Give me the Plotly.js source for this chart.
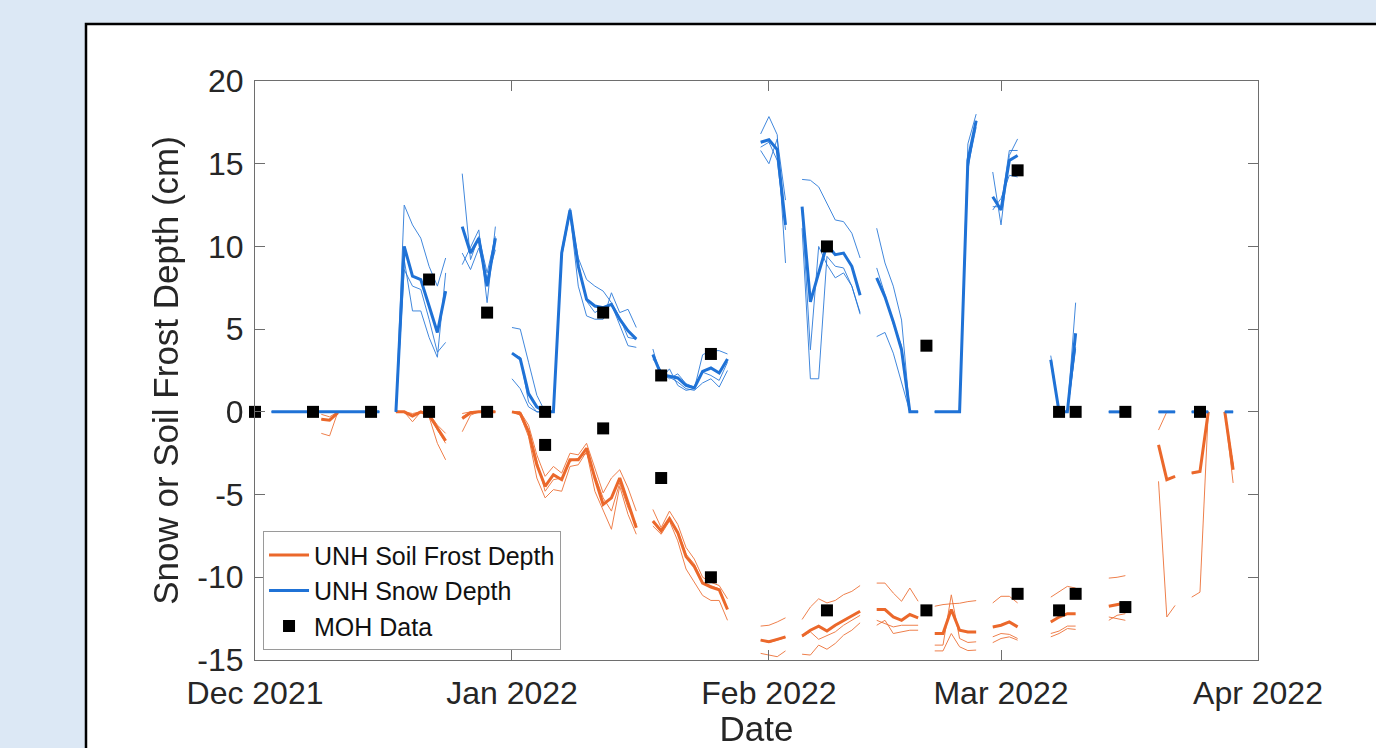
<!DOCTYPE html>
<html>
<head>
<meta charset="utf-8">
<script src="https://cdn.plot.ly/plotly-3.0.1.min.js"></script>
<style>
  html, body { margin:0; padding:0; background:#dce8f5; }
  #chart { width:1376px; height:748px; }
</style>
</head>
<body>
<div id="chart"></div>
<script>
const _ = null;
// Daily series start date (index 0 = 2021-12-01)
const startDate = '2021-12-01';

// UNH Snow Depth (cm): mean (thick) and three sensors (thin)
const snowMean = [
  _, _, 0, 0, 0, 0, 0, 0, 0, 0,
  0, 0, 0, 0, 0, 0, _, 0, 10.0, 8.2,
  8.0, 6.4, 4.8, 7.3, _, 11.2, 9.6, 10.5, 7.6, 10.5,
  _, 3.55, 3.2, 1.1, 0.3, 0, 0, 9.6, 12.2, 8.8,
  6.8, 6.4, 6.3, 6.5, 5.6, 4.9, 4.4, _, 3.45, 2.25,
  2.15, 2.05, 1.6, 1.45, 2.45, 2.65, 2.35, 3.2, _, _,
  _, 16.3, 16.45, 15.85, 11.3, _, 12.4, 6.65, 8.4, 10.1,
  9.5, 9.6, 8.8, 7.05, _, 8.1, 6.95, 5.45, 3.75, 0,
  0, _, 0, 0, 0, 0, 15.2, 17.6, _, 13.0,
  12.2, 15.2, 15.5, _, _, _, 3.15, 0, 0, 4.75,
  _, _, _, 0, 0, 0, _, _, _, 0,
  0, 0, _, 0, 0, 0, _, 0, 0
];
const snowA = [
  _, _, 0, 0, 0, 0, 0, 0, 0, 0,
  0, 0, 0, 0, 0, 0, _, 0, 12.5, 11.3,
  10.5, 8.8, 7.6, 9.3, _, 14.4, 9.2, 10.6, 8.4, 10.6,
  _, 5.1, 5.0, 3.0, 1.0, 0, 0, 9.6, 12.2, 9.3,
  8.0, 7.6, 7.3, 6.6, 5.7, 4.5, 4.4, _, 3.8, 2.0,
  2.6, 1.6, 1.3, 1.4, 3.45, 3.7, 3.7, 3.5, _, _,
  _, 16.8, 17.85, 16.75, 9.0, _, 14.05, 14.0, 13.6, 12.6,
  11.6, 11.5, 10.8, 9.3, _, 11.1, 9.0, 7.6, 5.55, 0,
  0, _, 0, 0, 0, 0, 16.2, 18.0, _, 14.5,
  11.3, 15.5, 16.5, _, _, _, 3.4, 0, 0, 6.6,
  _, _, _, 0, 0, 0, _, _, _, 0,
  0, 0, _, 0, 0, 0, _, 0, 0
];
const snowB = [
  _, _, 0, 0, 0, 0, 0, 0, 0, 0,
  0, 0, 0, 0, 0, 0, _, 0, 8.6, 7.6,
  7.4, 5.6, 3.6, 4.2, _, 8.9, 10.0, 11.0, 6.6, 11.2,
  _, 2.0, 1.4, 0.3, 0, 0, 0, 9.4, 12.0, 7.6,
  5.8, 5.6, 5.6, 7.2, 6.0, 6.2, 5.1, _, 3.2, 2.5,
  2.1, 1.8, 1.4, 1.3, 1.75, 2.0, 1.5, 2.5, _, _,
  _, 15.8, 15.0, 16.5, 12.8, _, 11.1, 2.0, 2.0, 9.4,
  8.8, 8.7, 7.6, 5.9, _, 4.55, 4.8, 3.55, 1.7, 0,
  0, _, 0, 0, 0, 0, 14.8, 17.2, _, 12.4,
  12.4, 15.8, 15.8, _, _, _, 3.0, 0, 0, 3.9,
  _, _, _, 0, 0, 0, _, _, _, 0,
  0, 0, _, 0, 0, 0, _, 0, 0
];
const snowC = [
  _, _, 0, 0, 0, 0, 0, 0, 0, 0,
  0, 0, 0, 0, 0, 0, _, 0, 9.2, 6.1,
  6.1, 4.5, 3.3, 8.4, _, 9.6, 8.6, 9.9, 8.0, 9.8,
  _, 3.5, 3.3, 0.6, 0, 0, 0, 9.8, 12.3, 9.0,
  6.7, 6.0, 6.3, 6.5, 5.2, 4.0, 3.9, _, 3.5, 2.4,
  2.0, 2.3, 1.7, 1.5, 2.4, 2.2, 1.9, 3.0, _, _,
  _, 16.0, 16.3, 15.2, 11.0, _, 12.2, 3.75, 10.0, 8.9,
  8.1, 8.4, 7.6, 6.0, _, 8.7, 7.1, 5.3, 4.0, 0,
  0, _, 0, 0, 0, 0, 14.6, 17.6, _, 12.2,
  12.9, 14.3, 14.2, _, _, _, 3.1, 0, 0, 3.8,
  _, _, _, 0, 0, 0, _, _, _, 0,
  0, 0, _, 0, 0, 0, _, 0, 0
];

// UNH Soil Frost Depth (cm, negative = depth): mean (thick) and three sensors (thin)
const frostMean = [
  _, _, _, _, _, _, _, _, -0.45, -0.5,
  -0.05, _, _, _, _, _, _, 0, 0, -0.25,
  0, -0.2, -1.0, -1.75, _, -0.4, -0.05, 0, 0, 0,
  _, 0, -0.1, -1.2, -3.2, -4.5, -3.8, -4.1, -2.9, -2.9,
  -2.2, -4.0, -5.6, -5.2, -4.0, -5.5, -7.0, _, -6.6, -7.2,
  -6.45, -7.3, -8.75, -9.35, -10.35, -10.6, -10.75, -11.95, _, _,
  _, -13.8, -13.9, -13.75, -13.6, _, -13.55, -13.2, -12.95, -13.25,
  -12.9, -12.6, -12.35, -12.05, _, -11.95, -11.95, -12.4, -12.6, -12.25,
  -12.45, _, -13.4, -13.4, -11.95, -13.2, -13.3, -13.3, _, -13.0,
  -12.9, -12.7, -13.0, _, _, _, -12.7, -12.4, -12.2, -12.2,
  _, _, _, -11.75, -11.65, -11.55, _, _, _, -2.0,
  -4.1, -3.9, _, -3.7, -3.6, 0, _, 0, -3.5
];
const frostA = [
  _, _, _, _, _, _, _, _, -0.15, -0.3,
  0, _, _, _, _, _, _, 0, 0, -0.1,
  0, -0.1, -0.8, -1.3, _, -0.1, 0, 0, 0, 0,
  _, 0, 0, -0.8, -2.6, -3.9, -3.3, -3.7, -2.5, -2.6,
  -1.9, -3.4, -4.9, -4.0, -3.5, -4.6, -6.0, _, -5.9, -7.0,
  -6.0, -6.8, -8.2, -8.9, -10.0, -10.3, -10.5, -11.3, _, _,
  _, -12.95, -12.9, -12.7, -12.45, _, -12.55, -11.8, -11.3, -11.55,
  -11.4, -11.05, -10.85, -10.5, _, -10.35, -10.35, -10.95, -11.45, -10.65,
  -11.45, _, -11.75, -11.65, -11.6, -11.57, -11.47, -11.41, _, -11.55,
  -11.15, -11.15, -11.55, _, _, _, -11.2, -10.85, -10.55, -10.65,
  _, _, _, -10.05, -10.0, -9.9, _, _, _, -1.1,
  0, 0, _, -3.7, -3.6, 0, _, 0, -3.2
];
const frostB = [
  _, _, _, _, _, _, _, _, -1.3, -1.45,
  0, _, _, _, _, _, _, 0, 0, -0.6,
  0, -0.3, -1.9, -2.9, _, -1.2, -0.2, 0, 0, 0,
  _, 0, -0.2, -1.5, -4.0, -5.2, -4.7, -4.8, -3.3, -3.2,
  -2.4, -4.8, -5.9, -7.1, -4.5, -6.2, -7.4, _, -6.9, -7.4,
  -6.6, -7.8, -9.5, -10.3, -11.1, -11.4, -11.4, -12.6, _, _,
  _, -14.6, -14.7, -14.8, -14.45, _, -14.65, -14.7, -14.1, -14.35,
  -14.0, -13.5, -13.2, -12.75, _, -12.9, -12.6, -13.4, -13.3, -13.2,
  -13.2, _, -14.45, -14.45, -13.4, -14.2, -14.43, -14.4, _, -13.95,
  -13.7, -13.6, -13.8, _, _, _, -13.6, -13.4, -13.1, -13.15,
  _, _, _, -12.6, -12.3, -12.2, _, _, _, -4.2,
  -12.4, -11.7, _, -11.2, -10.9, 0, _, 0, -4.3
];
const frostC = [
  _, _, _, _, _, _, _, _, -0.45, -0.5,
  0, _, _, _, _, _, _, 0, 0, -0.2,
  0, -0.1, -1.1, -1.9, _, -0.3, 0, 0, 0, 0,
  _, 0, 0, -1.1, -3.0, -4.8, -4.1, -4.0, -3.0, -2.8,
  -2.5, -3.8, -5.2, -6.0, -4.3, -5.8, -6.8, _, -6.7, -7.1,
  -6.5, -7.2, -8.6, -9.2, -10.3, -10.5, -10.7, -11.9, _, _,
  _, -13.8, -13.95, -13.8, -13.65, _, -13.6, -13.3, -13.75, -13.5,
  -13.3, -12.9, -12.6, -12.3, _, -12.6, -12.8, -13.0, -12.9, -12.9,
  -12.9, _, -14.1, -14.1, -11.06, -13.7, -13.94, -13.9, _, -13.6,
  -13.4, -13.45, -13.7, _, _, _, -13.4, -13.25, -12.95, -12.95,
  _, _, _, -12.4, -12.5, -12.6, _, _, _, -2.0,
  -4.1, -3.9, _, -3.7, -3.6, 0, _, 0, -3.2
];

// MOH manual observations
const mohDates = [
  '2021-12-01', '2021-12-08', '2021-12-15', '2021-12-22', '2021-12-22',
  '2021-12-29', '2021-12-29', '2022-01-05', '2022-01-05', '2022-01-12',
  '2022-01-12', '2022-01-19', '2022-01-19', '2022-01-25', '2022-01-25',
  '2022-02-08', '2022-02-08', '2022-02-20', '2022-02-20', '2022-03-03',
  '2022-03-03', '2022-03-08', '2022-03-08', '2022-03-10', '2022-03-10',
  '2022-03-16', '2022-03-16', '2022-03-25'
];
const mohValues = [
  0, 0, 0, 0, 8.0,
  6.0, 0, 0, -2.0, 6.0,
  -1.0, 2.2, -4.0, 3.5, -10.0,
  10.0, -12.0, 4.0, -12.0, 14.6,
  -11.0, 0, -12.0, 0, -11.0,
  0, -11.8, 0
];

// Axis ticks
const xTickVals = ['2021-12-01', '2022-01-01', '2022-02-01', '2022-03-01', '2022-04-01'];
const xTickText = ['Dec 2021', 'Jan 2022', 'Feb 2022', 'Mar 2022', 'Apr 2022'];
const yTickVals = [-15, -10, -5, 0, 5, 10, 15, 20];
const yTickText = ['-15', '-10', '-5', '0', '5', '10', '15', '20'];

// Build daily date list
function dailyDates(n) {
  const out = [];
  const t0 = Date.parse(startDate + 'T00:00:00Z');
  for (let i = 0; i < n; i++) {
    out.push(new Date(t0 + i * 86400000).toISOString().slice(0, 10));
  }
  return out;
}
const days = dailyDates(snowMean.length);

const BLUE = '#1f72d6';
const ORANGE = '#eb682b';
const FONT = '"Liberation Sans", Arial, Helvetica, sans-serif';

function thin(y, color) {
  return { x: days, y: y, type: 'scatter', mode: 'lines', showlegend: false,
           hoverinfo: 'skip', line: { color: color, width: 1 }, opacity: 0.85 };
}
function thick(y, color, name) {
  return { x: days, y: y, type: 'scatter', mode: 'lines', name: name,
           line: { color: color, width: 3 } };
}

const traces = [
  thin(frostA, ORANGE), thin(frostB, ORANGE), thin(frostC, ORANGE),
  thick(frostMean, ORANGE, 'UNH Soil Frost Depth'),
  thin(snowA, BLUE), thin(snowB, BLUE), thin(snowC, BLUE),
  thick(snowMean, BLUE, 'UNH Snow Depth'),
  { x: mohDates, y: mohValues, type: 'scatter', mode: 'markers', name: 'MOH Data',
    cliponaxis: false,
    marker: { symbol: 'square', size: 12, color: '#000000' } }
];

const axisCommon = {
  ticks: 'inside', ticklen: 10, tickwidth: 1, tickcolor: '#6e6e6e',
  showline: true, linecolor: '#6e6e6e', linewidth: 1, mirror: 'ticks',
  showgrid: false, zeroline: false,
  tickfont: { family: FONT, size: 32, color: '#262626' }
};

const layout = {
  width: 1376, height: 748,
  paper_bgcolor: '#dce8f5', plot_bgcolor: '#ffffff',
  margin: { l: 255, r: 118, t: 81, b: 88, pad: 0 },
  font: { family: FONT, color: '#262626' },
  xaxis: Object.assign({}, axisCommon, {
    type: 'date', range: ['2021-12-01', '2022-04-01'],
    tickmode: 'array', tickvals: xTickVals, ticktext: xTickText,
    ticklabelstandoff: 5,
    title: { text: 'Date', font: { family: FONT, size: 35, color: '#262626' }, standoff: 17 }
  }),
  yaxis: Object.assign({}, axisCommon, {
    range: [-15, 20], tickmode: 'array', tickvals: yTickVals, ticktext: yTickText,
    ticklabelstandoff: 4,
    title: { text: 'Snow or Soil Frost Depth (cm)', font: { family: FONT, size: 35, color: '#262626' }, standoff: 8 }
  }),
  legend: {
    x: 0.008, y: 0.017, xanchor: 'left', yanchor: 'bottom',
    bgcolor: '#ffffff', bordercolor: '#9a9a9a', borderwidth: 1,
    font: { family: FONT, size: 25, color: '#111111' },
    itemwidth: 40, tracegroupgap: 0
  },
  shapes: [{
    type: 'rect', xref: 'paper', yref: 'paper', layer: 'below',
    x0: -0.1685, x1: 1.3, y0: -0.3, y1: 1.0984,
    line: { color: '#000000', width: 2.5 }, fillcolor: '#ffffff'
  }],
  showlegend: true
};

Plotly.newPlot('chart', traces, layout, { displayModeBar: false, staticPlot: true });
</script>
</body>
</html>
